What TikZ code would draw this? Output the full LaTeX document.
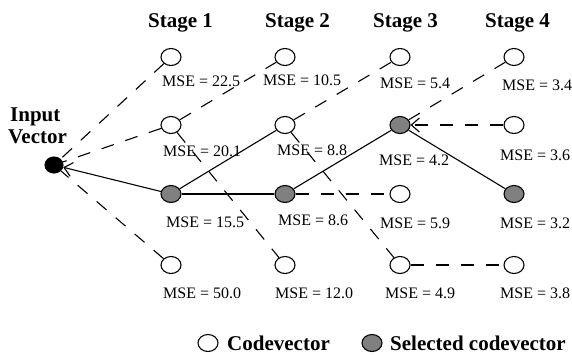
\documentclass[tikz,border=0pt]{standalone}
\usepackage{fontspec}
\setmainfont{Liberation Serif}
\usetikzlibrary{shapes.geometric,arrows.meta}
\definecolor{selgray}{RGB}{128,128,128}
\begin{document}
\begin{tikzpicture}[x=1pt,y=-1pt,
 cv/.style={ellipse,draw,line width=1.1pt,minimum width=20pt,minimum height=17pt,inner sep=0pt,fill=white},
 sel/.style={cv,fill=selgray},
 inp/.style={ellipse,fill=black,draw,line width=1.1pt,minimum width=18pt,minimum height=16pt,inner sep=0pt},
 mse/.style={anchor=base west,font=\fontsize{16}{18}\selectfont,inner sep=0pt},
 hdr/.style={anchor=base west,font=\fontsize{21}{24}\selectfont\bfseries,inner sep=0pt},
 cand/.style={line width=1.1pt,dash pattern=on 13pt off 12pt},
 chosen/.style={line width=1.1pt},
 tip/.style={-{Straight Barb[length=8pt,width=14pt]}}
]
\useasboundingbox (0,0) rectangle (572,354);

% headers
\node[hdr] (h1) at (148,27) {Stage 1};
\node[hdr] (h2) at (265,27) {Stage 2};
\node[hdr] (h3) at (373,27) {Stage 3};
\node[hdr] (h4) at (485,27) {Stage 4};
\node[hdr] (hin1) at (10,121) {Input};
\node[hdr] (hin2) at (8,143) {Vector};

% input
\node[inp] (in) at (54,165) {};

% codevectors
\node[cv]  (s1a) at (171,57) {};
\node[cv]  (s1b) at (171,125) {};
\node[sel] (s1c) at (171,194) {};
\node[cv]  (s1d) at (171,265) {};
\node[cv]  (s2a) at (285,57) {};
\node[cv]  (s2b) at (285,125) {};
\node[sel] (s2c) at (285,194) {};
\node[cv]  (s2d) at (285,265) {};
\node[cv]  (s3a) at (400,57) {};
\node[sel] (s3b) at (400,125) {};
\node[cv]  (s3c) at (400,194) {};
\node[cv]  (s3d) at (400,265) {};
\node[cv]  (s4a) at (514,57) {};
\node[cv]  (s4b) at (514,125) {};
\node[sel] (s4c) at (514,194) {};
\node[cv]  (s4d) at (514,265) {};

% MSE labels
\node[mse] (m1a) at (162,86) {MSE = 22.5};
\node[mse] (m1b) at (163,156) {MSE = 20.1};
\node[mse] (m1c) at (166,227) {MSE = 15.5};
\node[mse] (m1d) at (163,298) {MSE = 50.0};
\node[mse] (m2a) at (263,85) {MSE = 10.5};
\node[mse] (m2b) at (277,155) {MSE = 8.8};
\node[mse] (m2c) at (278,225) {MSE = 8.6};
\node[mse] (m2d) at (275,298) {MSE = 12.0};
\node[mse] (m3a) at (380,88) {MSE = 5.4};
\node[mse] (m3b) at (379,165) {MSE = 4.2};
\node[mse] (m3c) at (380,228) {MSE = 5.9};
\node[mse] (m3d) at (385,298) {MSE = 4.9};
\node[mse] (m4a) at (502,90) {MSE = 3.4};
\node[mse] (m4b) at (500,160) {MSE = 3.6};
\node[mse] (m4c) at (500,228) {MSE = 3.2};
\node[mse] (m4d) at (500,298) {MSE = 3.8};

% connectors
\draw[cand] (s1a) -- (in);
\draw[cand] (s1b) -- (in);
\draw[chosen,tip] (s1c) -- (in);
\draw[cand] (s1d) -- (in);
\draw[cand] (s1b) -- (s2a);
\draw[cand] (s1b) -- (s2d);
\draw[chosen] (s1c) -- (s2b);
\draw[chosen] (s1c) -- (s2c);
\draw[cand] (s2b) -- (s3a);
\draw[cand] (s2b) -- (s3d);
\draw[chosen] (s2c) -- (s3b);
\draw[cand] (s2c) -- (s3c);
\draw[cand] (s3b) -- (s4a);
\draw[cand,tip] (s4b) -- (s3b);
\draw[chosen] (s4c) -- (s3b);
\draw[cand] (s3d) -- (s4d);

% legend
\node[cv]  (lg1) at (208,343) {};
\node[hdr] (lt1) at (227,350) {Codevector};
\node[sel] (lg2) at (372,343) {};
\node[hdr] (lt2) at (390,350) {Selected codevector};
\end{tikzpicture}
\end{document}
